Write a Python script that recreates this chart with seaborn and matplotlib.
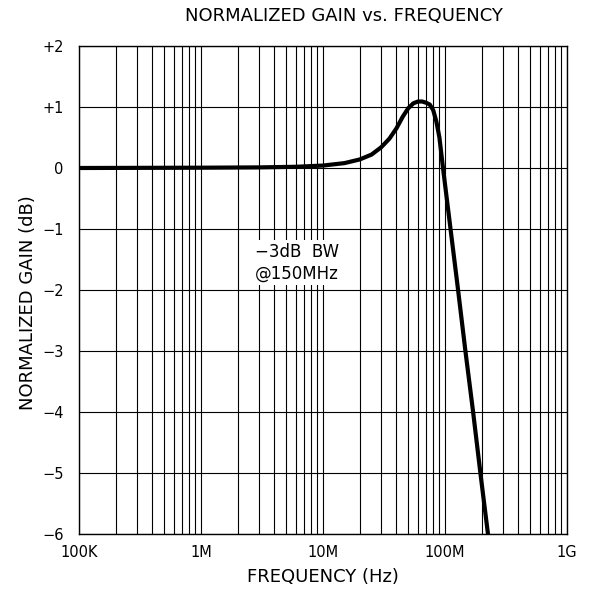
import matplotlib
matplotlib.use('Agg')
import numpy as np
import pandas as pd
import matplotlib.pyplot as plt
import seaborn as sns
from matplotlib.ticker import FixedLocator, LogLocator, NullFormatter

# curva
freq_hz = [1e5, 1e6, 3e6, 6e6, 1e7, 1.5e7, 2e7, 2.5e7, 3e7, 3.5e7, 4e7, 4.5e7,
           5e7, 5.5e7, 6e7, 6.5e7, 7e7, 7.5e7, 8e7, 8.5e7, 9e7, 9.63e7,
           1.11e8, 1.28e8, 1.47e8, 1.70e8, 1.95e8, 2.25e8]
gain_db = [0.0, 0.005, 0.01, 0.02, 0.04, 0.08, 0.14, 0.22, 0.34, 0.48, 0.65, 0.84,
           0.98, 1.06, 1.09, 1.09, 1.07, 1.04, 0.95, 0.76, 0.5, 0.0,
           -1.0, -2.0, -3.0, -4.0, -5.0, -6.0]

x_ticks = [1e5, 1e6, 1e7, 1e8, 1e9]
x_labels = ['100K', '1M', '10M', '100M', '1G']
y_ticks = [-6, -5, -4, -3, -2, -1, 0, 1, 2]
y_labels = ['\u22126', '\u22125', '\u22124', '\u22123', '\u22122', '\u22121', '0', '+1', '+2']

df = pd.DataFrame({'freq': freq_hz, 'gain': gain_db})

sns.set_style('white')
plt.rcParams['font.family'] = ['DejaVu Sans']
plt.rcParams['text.color'] = 'black'
plt.rcParams['axes.labelcolor'] = 'black'
plt.rcParams['xtick.color'] = 'black'
plt.rcParams['ytick.color'] = 'black'

fig = plt.figure(figsize=(5.96, 5.92), dpi=100)
ax = fig.add_axes([79 / 596, 1 - 534 / 592, 488 / 596, 488 / 592])

sns.lineplot(data=df, x='freq', y='gain', ax=ax, color='black', linewidth=3,
             sort=False, zorder=5)

ax.set_xscale('log')
ax.set_xlim(1e5, 1e9)
ax.set_ylim(-6, 2)

ax.xaxis.set_major_locator(FixedLocator(x_ticks))
ax.set_xticklabels(x_labels)
ax.xaxis.set_minor_locator(LogLocator(base=10, subs=np.arange(2, 10)))
ax.xaxis.set_minor_formatter(NullFormatter())
ax.set_yticks(y_ticks)
ax.set_yticklabels(y_labels)

# grade fina em todas as linhas
ax.grid(True, which='both', axis='x', color='black', linewidth=0.8)
ax.grid(True, which='major', axis='y', color='black', linewidth=0.8)
ax.set_axisbelow(True)

ax.tick_params(axis='both', which='both', length=0, labelsize=10.5, pad=8)
ax.tick_params(axis='y', pad=11)
for s in ax.spines.values():
    s.set_color('black')
    s.set_linewidth(1)

ax.set_xlabel('FREQUENCY (Hz)', fontsize=13, labelpad=6)
ax.set_ylabel('NORMALIZED GAIN (dB)', fontsize=13)
ax.yaxis.set_label_coords(-0.086, 0.475)
fig.text(344 / 596, 1 - 16 / 592, 'NORMALIZED GAIN vs. FREQUENCY',
         ha='center', va='center', fontsize=13)

ax.text(0.447, 0.556, '\u22123dB  BW\n@150MHz', transform=ax.transAxes,
        ha='center', va='center', fontsize=12, linespacing=1.25, zorder=6,
        bbox=dict(facecolor='white', edgecolor='none', pad=2))

plt.savefig('out.png', dpi=100, facecolor='white')
